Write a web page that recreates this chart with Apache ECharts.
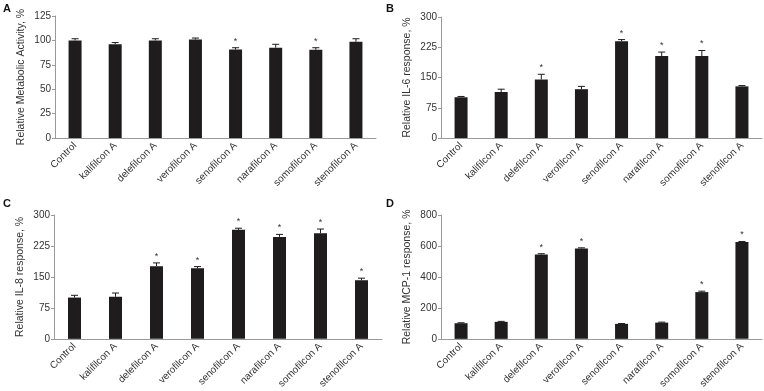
<!DOCTYPE html>
<html>
<head>
<meta charset="utf-8">
<script src="https://cdn.jsdelivr.net/npm/echarts@6/dist/echarts.min.js"></script>
<style>
  html, body { margin: 0; padding: 0; background: #fff; }
  #main { width: 764px; height: 391px; }
</style>
</head>
<body>
<div id="main"></div>
<script>
var lenses = ['Control', 'kalifilcon A', 'delefilcon A', 'verofilcon A', 'senofilcon A', 'narafilcon A', 'somofilcon A', 'stenofilcon A'];

// A - metabolic activity
var metabolicVals = [100, 96, 100, 101, 90.7, 92.5, 90.4, 98.6];
var metabolicErr = [1.7, 1.8, 1.7, 1.4, 1.8, 3.5, 2.1, 3.1];
var metabolicStar = [0, 0, 0, 0, 1, 0, 1, 0];
var metabolicTicks = [0, 25, 50, 75, 100, 125];

// B - IL-6
var il6Vals = [101, 114, 145, 121, 240, 203, 203, 128];
var il6Err = [2, 7, 13, 7, 4, 10, 14, 2];
var il6Star = [0, 0, 1, 0, 1, 1, 1, 0];
var il6Ticks = [0, 75, 150, 225, 300];

// C - IL-8
var il8Vals = [100, 102, 176, 171, 264, 247, 256, 142];
var il8Err = [5.5, 9, 8, 4, 4, 6, 10, 5];
var il8Star = [0, 0, 1, 1, 1, 1, 1, 1];
var il8Ticks = [0, 75, 150, 225, 300];

// D - MCP-1
var mcp1Vals = [101, 110, 545, 584, 97, 105, 302, 625];
var mcp1Err = [3, 3, 5, 4, 2, 3, 6, 4];
var mcp1Star = [0, 0, 1, 1, 0, 0, 1, 1];
var mcp1Ticks = [0, 200, 400, 600, 800];

var FONT = '"Liberation Sans", Arial, sans-serif';
var TXT = '#333';
var LINE = '#9a9a9a';
var BAR = '#1e1c1d';

var chart = echarts.init(document.getElementById('main'));

var grids = [], xAxes = [], yAxes = [], series = [];

function addPanel(idx, box, title, vals, errs, stars, ticks) {
    grids.push({ left: box[0], top: box[1], width: box[2], height: box[3] });
    xAxes.push({
        type: 'category', gridIndex: idx, data: lenses,
        axisLine: { lineStyle: { color: LINE, width: 1 } },
        axisTick: { show: false },
        axisLabel: { rotate: 45, fontSize: 10, color: TXT, fontFamily: FONT, margin: 6, interval: 0 }
    });
    yAxes.push({
        type: 'value', gridIndex: idx,
        min: ticks[0], max: ticks[ticks.length - 1], interval: ticks[1] - ticks[0],
        name: title, nameLocation: 'middle', nameGap: 28,
        nameTextStyle: { fontSize: 10.5, color: TXT, fontFamily: FONT },
        axisLine: { show: true, lineStyle: { color: LINE, width: 1 } },
        axisTick: { show: true, length: 3, lineStyle: { color: LINE } },
        axisLabel: { fontSize: 10, color: TXT, fontFamily: FONT, margin: 4 },
        splitLine: { show: false }
    });
    series.push({
        type: 'bar', xAxisIndex: idx, yAxisIndex: idx,
        data: vals, barWidth: 13,
        itemStyle: { color: BAR },
        silent: true
    });
    var errData = vals.map(function (v, i) { return [i, v, errs[i], stars[i]]; });
    series.push({
        type: 'custom', xAxisIndex: idx, yAxisIndex: idx,
        data: errData, silent: true, z: 3,
        renderItem: function (params, api) {
            var x = api.coord([api.value(0), api.value(1)]);
            var top = api.coord([api.value(0), api.value(1) + api.value(2)]);
            var children = [
                { type: 'line', shape: { x1: x[0], y1: x[1], x2: top[0], y2: top[1] }, style: { stroke: BAR, lineWidth: 1 } },
                { type: 'line', shape: { x1: top[0] - 3.5, y1: top[1], x2: top[0] + 3.5, y2: top[1] }, style: { stroke: BAR, lineWidth: 1 } }
            ];
            if (api.value(3)) {
                children.push({
                    type: 'text',
                    style: { text: '*', x: top[0], y: top[1] - 2, align: 'center', verticalAlign: 'bottom', fontSize: 9, fill: TXT, fontFamily: FONT }
                });
            }
            return { type: 'group', children: children };
        }
    });
}

addPanel(0, [55, 16, 321, 122], 'Relative Metabolic Activity, %', metabolicVals, metabolicErr, metabolicStar, metabolicTicks);
addPanel(1, [441, 17, 321, 121], 'Relative IL-6 response, %', il6Vals, il6Err, il6Star, il6Ticks);
addPanel(2, [54, 215, 328, 124], 'Relative IL-8 response, %', il8Vals, il8Err, il8Star, il8Ticks);
addPanel(3, [441, 215, 321, 124], 'Relative MCP-1 response, %', mcp1Vals, mcp1Err, mcp1Star, mcp1Ticks);

var panelLetters = ['A', 'B', 'C', 'D'];
var letterPos = [[3, 3], [386, 3], [3, 198], [386, 198]];

option = {
    animation: false,
    backgroundColor: '#fff',
    grid: grids,
    xAxis: xAxes,
    yAxis: yAxes,
    series: series,
    graphic: panelLetters.map(function (l, i) {
        return {
            type: 'text', left: letterPos[i][0], top: letterPos[i][1],
            style: { text: l, fontSize: 11, fontWeight: 'bold', fill: '#111', fontFamily: FONT }
        };
    })
};

chart.setOption(option);
</script>
</body>
</html>
